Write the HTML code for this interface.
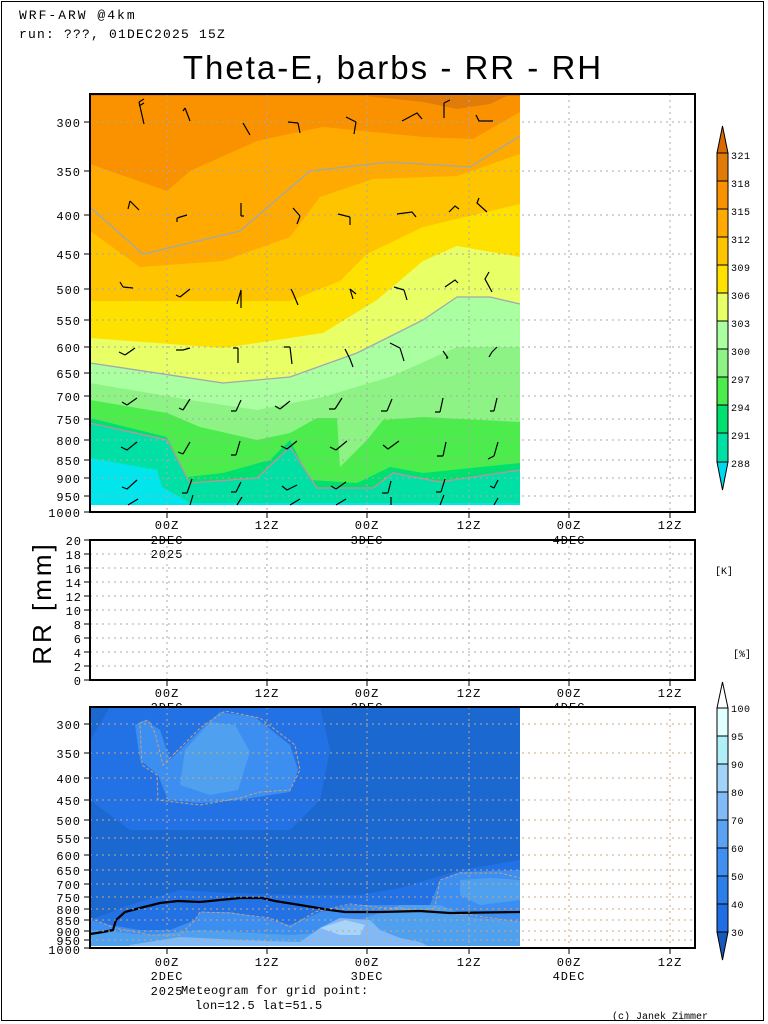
<!DOCTYPE html>
<html><head><meta charset="utf-8"><style>
body{margin:0;background:#fff;}
svg{display:block;font-family:"Liberation Mono",monospace;}
</style></head><body>
<svg width="768" height="1024" viewBox="0 0 768 1024" xmlns="http://www.w3.org/2000/svg">
<rect x="0" y="0" width="768" height="1024" fill="#fff"/>
<rect x="1.5" y="1.5" width="762" height="1019" fill="none" stroke="#000" stroke-width="1"/>
<text x="19" y="19" font-size="13" letter-spacing="2">WRF-ARW @4km</text>
<text x="19" y="38" font-size="13" letter-spacing="1.2">run: ???, 01DEC2025 15Z</text>
<text x="393" y="79" font-size="33" letter-spacing="2" text-anchor="middle" font-family="Liberation Sans, sans-serif">Theta-E, barbs - RR - RH</text>

<!-- TOP PANEL FILLS -->
<clipPath id="c1"><rect x="90" y="94" width="430" height="411"/></clipPath>
<g clip-path="url(#c1)">
<rect x="90" y="94" width="430" height="420" fill="#fa9200"/>
<polygon points="90,94 520,94 520,96 507,96 490,104 457,109 423,102 367,96 90,96" fill="#e27c08"/>
<polygon points="90,164 167,191 190,171 257,141 303,131 323,127 423,137 473,139 520,112 520,520 90,520" fill="#ffaa00"/>
<polygon points="90,231 140,267 223,261 290,237 320,197 373,179 457,176 520,154 520,520 90,520" fill="#ffc400"/>
<polygon points="90,301 290,301 340,281 367,254 423,227 520,204 520,520 90,520" fill="#ffe100"/>
<polygon points="90,338 223,348 323,333 377,300 423,261 457,246 520,257 520,520 90,520" fill="#e8ff66"/>
<polygon points="90,363 223,383 290,377 357,353 423,320 457,297 490,297 520,304 520,520 90,520" fill="#aaffa0"/>
<polygon points="90,383 190,400 257,410 323,397 390,377 457,347 520,347 520,520 90,520" fill="#8cf384"/>
<polygon points="90,400 167,413 200,427 257,440 290,433 317,418 337,418 340,467 367,440 383,420 423,417 520,422 520,520 90,520" fill="#4cec4c"/>
<polygon points="90,418 167,437 187,477 223,473 270,460 290,440 310,480 357,483 390,467 423,473 520,463 520,520 90,520" fill="#00e070"/>
<polygon points="90,423 167,440 190,483 257,478 290,447 317,488 373,488 393,473 440,482 520,470 520,520 90,520" fill="#00e0a4"/>
<polygon points="90,458 157,470 162,487 190,503 520,503 520,520 90,520" fill="#00e6ec"/>
<polyline points="90,207 143,254 240,231 310,171 390,162 470,167 520,136" fill="none" stroke="#a0a8b0" stroke-width="1.3"/>
<polyline points="90,363 223,383 290,377 357,353 423,320 457,297 490,297 520,304" fill="none" stroke="#a0a8b0" stroke-width="1.3"/>
<polyline points="90,423 167,440 190,483 257,478 290,447 317,488 373,488 393,473 440,482 520,470" fill="none" stroke="#c090a0" stroke-width="1.3"/>
</g>
<g stroke="#aaa" stroke-dasharray="2,4" stroke-width="1">
<path d="M167 94V512M267 94V512M367 94V512M469 94V512M569 94V512M670 94V512"/>
<path d="M90 122H695M90 171H695M90 215H695M90 254H695M90 289H695M90 320H695M90 347H695M90 373H695M90 396H695M90 419H695M90 440H695M90 460H695M90 478H695M90 496H695"/>
</g>
<g stroke="#000" stroke-width="1.2" fill="none">
<path d="M139 102l5 22M139 102l5-3M139 106l5-3"/>
<path d="M185 108l5 13M185 108l-2 3"/>
<path d="M243 123l7 12M298 123l2 10M298 123l-10-1M356 122l-2 12M356 122l-10-5M402 121l15-8 5 6M444 103l0 15M444 103l6-3M476 115l3 6h14"/>
<path d="M130 201l9 9M130 201l-2 8M177 218l10-3M177 218l0 4M241 216l0-13M241 216l3 0M300 216l-7-8M300 216l-3 8M350 217l-12-3M350 217l0 8M397 214l15-2 4 5M449 212l6-6 4 3M487 212l-10-9 2-5"/>
<path d="M123 287l10 1M123 287l-3-5M180 297l10-8M180 297l-4-2M241 290l0 18M241 290l-4 14M293 293l5 12M293 293l-2-4M350 289l6 5M350 289l3 10M404 290l-10-3M404 290l3 10M445 287l10-7 3 3M489 272l-4 7 7 13"/>
<path d="M125 355l10-7M125 355l-6-3M183 350l7-2M183 350l-7 0M238 348l0 15M238 348l-5 0M290 347l2 17M290 347l-6 0M350 359l-5-10M350 359l3 8M400 348l-10-5M400 348l4 13M448 358l-5-7M448 358l-2 0M492 352l5-5M492 352l-3 5"/>
<path d="M127 405l10-7M127 405l-5-3M183 410l7-11M183 410l-4-2M236 411l5-11M236 411l-5 0M280 409l-5-3M280 409l10-8M335 409l7-11M335 409l-6 0M387 411l5-12M387 411l-6 0M440 412l3-14M440 412l-5 0M494 411l3-13M494 411l-4 0"/>
<path d="M127 450l10-8M127 450l-6-3M183 454l7-12M183 454l-5-2M236 455l4-14M236 455l-5 0M287 449l10-8M287 449l-6-3M336 450l11-9M336 450l-6-3M388 449l11-8M388 449l-5-4M443 456l3-14M443 456l-6 0M494 456l4-14M494 456l-6 3"/>
<path d="M127 489l10-9M127 489l-5-2M187 493l5-14M187 493l-5 0M236 492l5-10M236 492l-5 0M287 490l10-5M287 490l-5-4M336 489l10-7M336 489l-5-3M388 493l3-12M388 493l-6 0M441 492l4-13M441 492l-5 0M494 488l4-8M494 488l-4-2"/>
<path d="M128 505l10-6M190 505l3-10M237 505l5-8M290 505l10-6M336 505l10-6M391 505l0-8M440 505l4-10M494 505l4-7"/>
</g>
<rect x="90" y="94" width="605" height="418" fill="none" stroke="#000" stroke-width="2"/>
<g font-size="12" text-anchor="end" letter-spacing="1">
<text x="81" y="127">300</text><text x="81" y="176">350</text><text x="81" y="220">400</text><text x="81" y="259">450</text><text x="81" y="294">500</text><text x="81" y="325">550</text><text x="81" y="352">600</text><text x="81" y="378">650</text><text x="81" y="401">700</text><text x="81" y="424">750</text><text x="81" y="445">800</text><text x="81" y="465">850</text><text x="81" y="483">900</text><text x="81" y="501">950</text><text x="81" y="517">1000</text>
</g>
<g stroke="#000"><path d="M84 122h6M84 171h6M84 215h6M84 254h6M84 289h6M84 320h6M84 347h6M84 373h6M84 396h6M84 419h6M84 440h6M84 460h6M84 478h6M84 496h6M84 512h6"/>
<path d="M167 512v6M267 512v6M367 512v6M469 512v6M569 512v6M670 512v6"/></g>
<g font-size="12" text-anchor="middle" letter-spacing="1">
<text x="167" y="529">00Z</text><text x="267" y="529">12Z</text><text x="367" y="529">00Z</text><text x="469" y="529">12Z</text><text x="569" y="529">00Z</text><text x="670" y="529">12Z</text>
<text x="167" y="544">2DEC</text><text x="367" y="544">3DEC</text><text x="569" y="544">4DEC</text><text x="167" y="558">2025</text>
</g>

<g stroke="#000" stroke-width="1">
<polygon points="717,153 722.5,126 728,153" fill="#d86a00"/>
<rect x="717" y="153" width="11" height="28" fill="#e07a08"/>
<rect x="717" y="181" width="11" height="28" fill="#fa9200"/>
<rect x="717" y="209" width="11" height="28" fill="#ffaa00"/>
<rect x="717" y="237" width="11" height="28" fill="#ffc400"/>
<rect x="717" y="265" width="11" height="28" fill="#ffe100"/>
<rect x="717" y="293" width="11" height="28" fill="#e8ff66"/>
<rect x="717" y="321" width="11" height="28" fill="#aaffa0"/>
<rect x="717" y="349" width="11" height="28" fill="#8cf384"/>
<rect x="717" y="377" width="11" height="28" fill="#4cec4c"/>
<rect x="717" y="405" width="11" height="28" fill="#00e070"/>
<rect x="717" y="433" width="11" height="29" fill="#00e0a4"/>
<polygon points="717,462 722.5,490 728,462" fill="#00d8f0"/>
</g>
<g font-size="10" letter-spacing="0.5">
<text x="731" y="159">321</text><text x="731" y="187">318</text><text x="731" y="215">315</text><text x="731" y="243">312</text><text x="731" y="271">309</text><text x="731" y="299">306</text><text x="731" y="327">303</text><text x="731" y="355">300</text><text x="731" y="383">297</text><text x="731" y="411">294</text><text x="731" y="439">291</text><text x="731" y="467">288</text>
</g>

<!-- MID PANEL -->
<g stroke="#aaa" stroke-dasharray="2,4" stroke-width="1">
<path d="M167 540V680M267 540V680M367 540V680M469 540V680M569 540V680M670 540V680"/>
<path d="M90 554H695M90 568H695M90 582H695M90 596H695M90 610H695M90 624H695M90 638H695M90 652H695M90 666H695"/>
</g>
<rect x="90" y="540" width="605" height="140" fill="none" stroke="#000" stroke-width="2"/>
<g stroke="#000"><path d="M84 540h6M84 554h6M84 568h6M84 582h6M84 596h6M84 610h6M84 624h6M84 638h6M84 652h6M84 666h6M84 680h6"/>
<path d="M167 680v6M267 680v6M367 680v6M469 680v6M569 680v6M670 680v6"/></g>
<g font-size="12" text-anchor="end" letter-spacing="1">
<text x="82" y="545">20</text><text x="82" y="559">18</text><text x="82" y="573">16</text><text x="82" y="587">14</text><text x="82" y="601">12</text><text x="82" y="615">10</text><text x="82" y="629">8</text><text x="82" y="643">6</text><text x="82" y="657">4</text><text x="82" y="671">2</text><text x="82" y="685">0</text>
</g>
<text transform="translate(51,603) rotate(-90)" font-size="26" letter-spacing="3" text-anchor="middle" font-family="Liberation Sans, sans-serif">RR [mm]</text>
<text x="715" y="574" font-size="10">[K]</text>
<text x="733" y="657" font-size="10">[%]</text>
<g font-size="12" text-anchor="middle" letter-spacing="1">
<text x="167" y="697">00Z</text><text x="267" y="697">12Z</text><text x="367" y="697">00Z</text><text x="469" y="697">12Z</text><text x="569" y="697">00Z</text><text x="670" y="697">12Z</text>
<text x="167" y="711">2DEC</text><text x="367" y="711">3DEC</text><text x="569" y="711">4DEC</text>
</g>

<!-- BOTTOM PANEL -->
<rect x="90" y="707" width="605" height="241" fill="#fff"/>
<clipPath id="c3"><rect x="90" y="707" width="430" height="239"/></clipPath>
<g clip-path="url(#c3)">
<rect x="90" y="707" width="430" height="240" fill="#1a68d0"/>
<polygon points="90,740 110,707 320,707 330,750 320,800 290,830 200,830 130,830 110,815 90,800" fill="#2272e6"/>
<polygon points="135,725 145,720 160,730 170,760 200,730 220,712 255,717 290,745 298,770 290,792 270,795 240,800 200,803 168,800 158,775 140,760" fill="#3c8ef0"/>
<polygon points="180,785 185,750 210,722 235,725 250,752 238,790 210,795" fill="#50a0f0"/>
<polygon points="90,920 130,905 180,890 230,893 300,895 360,895 400,888 460,870 520,860 520,947 90,947" fill="#2272e6"/>
<polygon points="90,920 110,925 140,930 170,930 195,920 200,912 230,912 265,918 290,925 320,912 350,905 400,905 430,905 440,880 460,872 520,870 520,947 90,947" fill="#3c8ef0"/>
<polygon points="90,930 150,935 200,930 290,935 330,932 360,920 400,905 440,905 470,917 520,922 520,947 90,947" fill="#50a0f0"/>
<polygon points="130,945 180,937 240,940 300,942 320,928 340,918 370,920 380,930 400,938 420,942 430,947 130,947" fill="#80b8f8"/>
<polygon points="320,928 345,920 365,925 360,935 340,935" fill="#a8d4fa"/>
<polygon points="460,880 490,878 520,880 520,900 480,905 460,895" fill="#50a0f0"/>
<g fill="none" stroke="#c8a080" stroke-width="1" stroke-dasharray="3,2">
<polyline points="140,723 148,720 155,733 163,765 200,728 225,711 260,718 295,745 300,770 290,790 260,792 240,798 200,805 158,800 157,775 142,765 140,723"/>
<polyline points="90,918 115,928 150,935 180,935 195,920 200,912 230,913 270,918 290,927 315,912 350,904 385,908 400,908 420,912 435,907 440,880 460,873 500,873 520,878"/>
<polyline points="430,912 470,915 520,922"/>
</g>
<polyline points="90,934 103,932 113,930 116,920 125,912 140,908 160,903 178,901 200,902 220,900 240,898 262,898 275,901 300,905 330,910 345,912 380,912 420,911 450,913 520,912" fill="none" stroke="#000" stroke-width="2.2"/>
</g>
<g stroke="#c8a880" stroke-dasharray="2,4" stroke-width="1">
<path d="M167 707V946M267 707V946M367 707V946M469 707V946M569 707V946M670 707V946"/>
<path d="M90 724H695M90 753H695M90 778H695M90 800H695M90 820H695M90 838H695M90 855H695M90 870H695M90 884H695M90 897H695M90 909H695M90 920H695M90 931H695M90 940H695"/>
</g>
<rect x="90" y="707" width="605" height="241" fill="none" stroke="#000" stroke-width="2"/>
<g stroke="#000"><path d="M84 724h6M84 753h6M84 778h6M84 800h6M84 820h6M84 838h6M84 855h6M84 870h6M84 884h6M84 897h6M84 909h6M84 920h6M84 931h6M84 940h6M84 948h6"/>
<path d="M167 948v6M267 948v6M367 948v6M469 948v6M569 948v6M670 948v6"/></g>
<g font-size="12" text-anchor="end" letter-spacing="1">
<text x="81" y="729">300</text><text x="81" y="758">350</text><text x="81" y="783">400</text><text x="81" y="805">450</text><text x="81" y="825">500</text><text x="81" y="843">550</text><text x="81" y="860">600</text><text x="81" y="875">650</text><text x="81" y="889">700</text><text x="81" y="902">750</text><text x="81" y="914">800</text><text x="81" y="925">850</text><text x="81" y="936">900</text><text x="81" y="945">950</text><text x="81" y="954">1000</text>
</g>
<g font-size="12" text-anchor="middle" letter-spacing="1">
<text x="167" y="966">00Z</text><text x="267" y="966">12Z</text><text x="367" y="966">00Z</text><text x="469" y="966">12Z</text><text x="569" y="966">00Z</text><text x="670" y="966">12Z</text>
<text x="167" y="980">2DEC</text><text x="367" y="980">3DEC</text><text x="569" y="980">4DEC</text><text x="167" y="995">2025</text>
</g>
<text x="181" y="994" font-size="12" letter-spacing="0.3">Meteogram for grid point:</text>
<text x="195" y="1009" font-size="12" letter-spacing="0.3">lon=12.5 lat=51.5</text>
<text x="612" y="1019" font-size="10">(c) Janek Zimmer</text>

<g stroke="#000" stroke-width="1">
<polygon points="717,708 722.5,682 728,708" fill="#fff"/>
<rect x="717" y="708" width="11" height="28" fill="#e0ffff"/>
<rect x="717" y="736" width="11" height="28" fill="#b0eef8"/>
<rect x="717" y="764" width="11" height="28" fill="#a0d2fa"/>
<rect x="717" y="792" width="11" height="28" fill="#80baf8"/>
<rect x="717" y="820" width="11" height="28" fill="#5aa2f2"/>
<rect x="717" y="848" width="11" height="28" fill="#3f90f0"/>
<rect x="717" y="876" width="11" height="28" fill="#2c7eea"/>
<rect x="717" y="904" width="11" height="28" fill="#206ee6"/>
<polygon points="717,932 722.5,960 728,932" fill="#1858b8"/>
</g>
<g font-size="10" letter-spacing="0.5">
<text x="731" y="712">100</text><text x="731" y="740">95</text><text x="731" y="768">90</text><text x="731" y="796">80</text><text x="731" y="824">70</text><text x="731" y="852">60</text><text x="731" y="880">50</text><text x="731" y="908">40</text><text x="731" y="936">30</text>
</g>
</svg>
</body></html>
